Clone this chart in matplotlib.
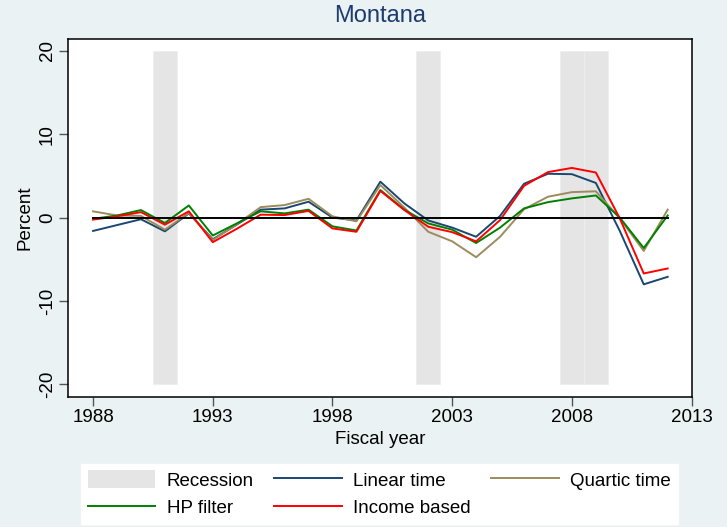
import numpy as np
import matplotlib
matplotlib.use("Agg")
import matplotlib.pyplot as plt
from matplotlib.patches import Patch
from matplotlib.lines import Line2D

plt.rcParams['font.family'] = ['Liberation Sans', 'DejaVu Sans']
plt.rcParams['axes.unicode_minus'] = False

years = np.arange(1988, 2013)
recession_years = [1991, 2002, 2008, 2009]

linear_time = [-1.6, -0.9, -0.2, -1.65, 0.5, -2.6, -0.85, 0.95, 1.1, 1.9, 0.0, -0.35, 4.3,
               1.7, -0.35, -1.2, -2.3, 0.2, 4.05, 5.25, 5.2, 4.15, -1.6, -8.0, -7.1]
quartic_time = [0.75, 0.25, 0.2, -1.45, 0.55, -2.7, -0.8, 1.25, 1.5, 2.25, 0.15, -0.45, 3.9,
                1.2, -1.7, -2.85, -4.75, -2.3, 1.0, 2.5, 3.05, 3.15, -0.1, -4.0, 0.95]
hp_filter = [-0.15, 0.25, 0.9, -0.65, 1.45, -2.15, -0.7, 0.75, 0.5, 0.95, -1.05, -1.55, 3.3,
             0.95, -0.7, -1.45, -3.05, -1.2, 1.1, 1.85, 2.3, 2.65, 0.0, -3.65, 0.25]
income_based = [-0.25, 0.15, 0.65, -0.85, 0.75, -2.95, -1.35, 0.35, 0.3, 0.8, -1.3, -1.7, 3.2,
                0.9, -1.1, -1.75, -2.85, -0.3, 3.8, 5.45, 5.95, 5.4, -0.1, -6.7, -6.1]

bg = '#EAF2F3'
c_rec = '#E5E5E5'
c_lin = '#1A476F'
c_quart = '#9C8B5E'
c_hp = '#008000'
c_inc = '#FF0000'

fig = plt.figure(figsize=(7.27, 5.27), dpi=100, facecolor=bg)
ax = fig.add_axes([0.0931, 0.2467, 0.8589, 0.6793])
ax.set_facecolor('white')

# recession bars
ax.bar(recession_years, 40, width=1.0, bottom=-20, color=c_rec,
       edgecolor='#EDEFEF', linewidth=0.6, zorder=1)

ax.plot(years, linear_time, color=c_lin, lw=1.4, zorder=3)
ax.plot(years, quartic_time, color=c_quart, lw=1.4, zorder=3)
ax.plot(years, hp_filter, color=c_hp, lw=1.4, zorder=3)
ax.plot(years, income_based, color=c_inc, lw=1.4, zorder=3)
ax.plot(years, np.zeros(len(years)), color='black', lw=1.4, zorder=4)

ax.set_xlim(1986.94, 2013.02)
ax.set_ylim(-21.5, 21.4)
ax.set_xticks([1988, 1993, 1998, 2003, 2008, 2013])
ax.set_yticks([-20, -10, 0, 10, 20])
ax.tick_params(axis='both', labelsize=13.5, length=6.5, width=1, color='#555555',
               direction='out', pad=2)
for lab in ax.get_yticklabels():
    lab.set_rotation(90)
    lab.set_va('center')
for s in ax.spines.values():
    s.set_linewidth(1.1)
    s.set_color('black')

ax.set_xlabel('Fiscal year', fontsize=13.5, labelpad=4)
ax.set_ylabel('Percent', fontsize=13.5, labelpad=4)
ax.set_title('Montana', fontsize=17, color='#1E3B6F', pad=12)

handles = [Patch(facecolor=c_rec, edgecolor='none'),
           Line2D([], [], color=c_hp, lw=1.4),
           Line2D([], [], color=c_lin, lw=1.4),
           Line2D([], [], color=c_inc, lw=1.4),
           Line2D([], [], color=c_quart, lw=1.4)]
labels = ['Recession', 'HP filter', 'Linear time', 'Income based', 'Quartic time']
leg = fig.legend(handles, labels, ncol=3, loc='center', bbox_to_anchor=(0.522, 0.063),
                 fontsize=13.5, frameon=True, fancybox=False, edgecolor='white',
                 facecolor='white', framealpha=1, handlelength=3.6, handleheight=1.1,
                 columnspacing=1.1, handletextpad=0.6, labelspacing=0.45,
                 borderpad=0.35)

fig.savefig('out.png', dpi=100, facecolor=bg)
